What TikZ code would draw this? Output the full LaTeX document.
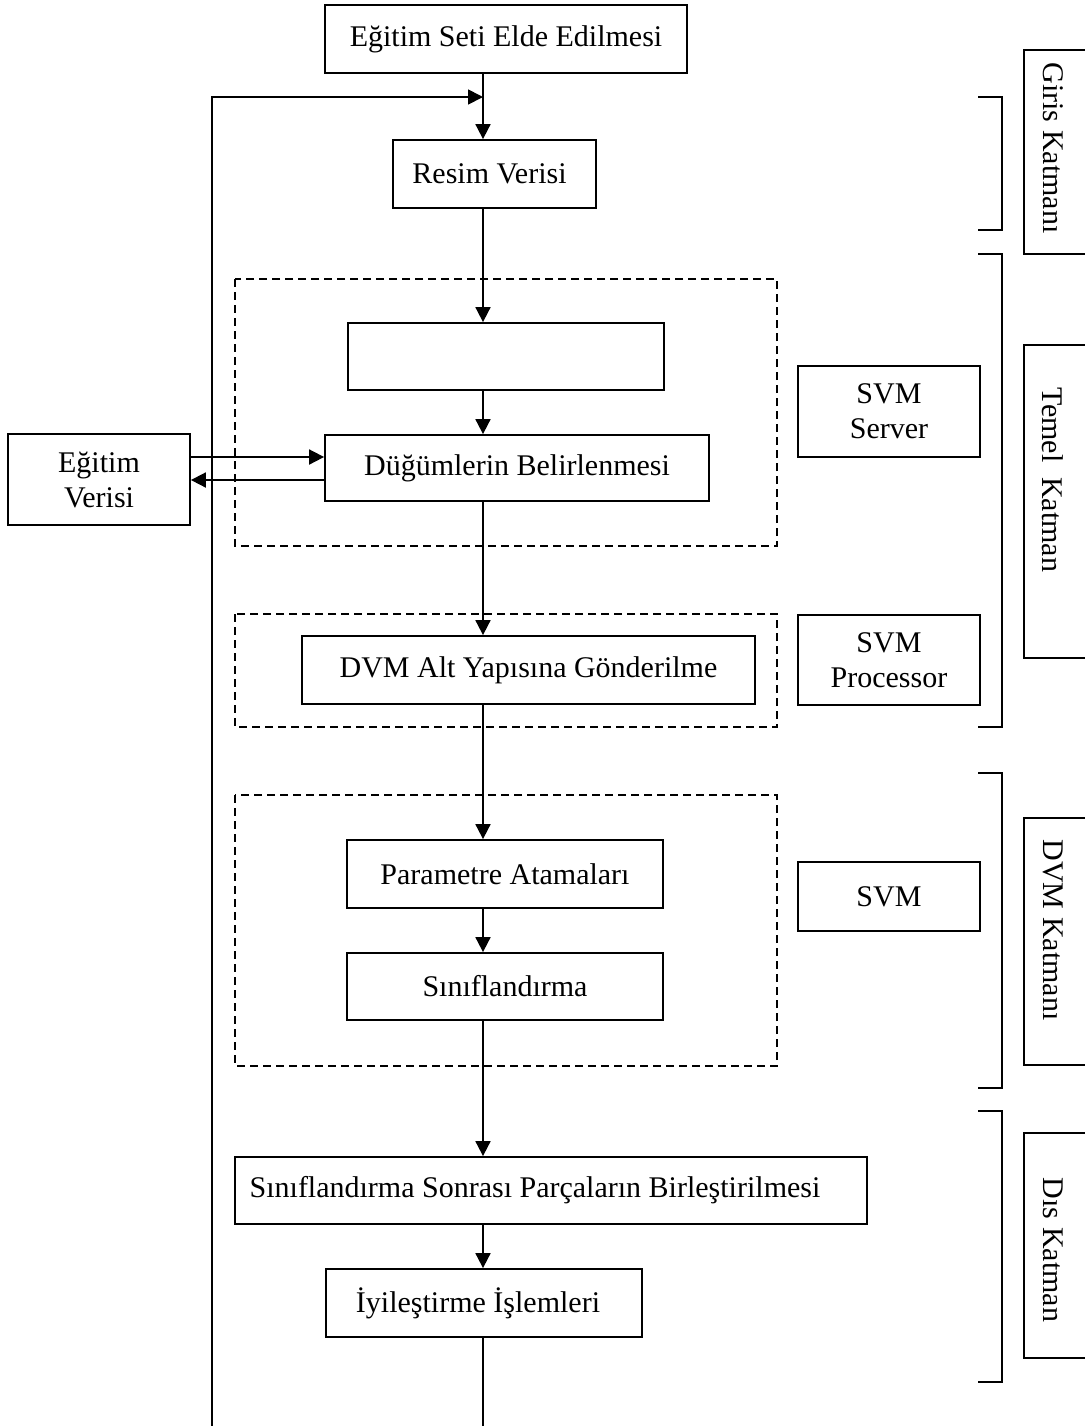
\documentclass[tikz,border=0pt]{standalone}
\usepackage{fontspec}
\setmainfont{Liberation Serif}
\usetikzlibrary{arrows.meta}
\begin{document}
\begin{tikzpicture}[x=0.5pt,y=-0.5pt,
  every node/.style={font=\fontsize{15}{17.5}\selectfont},
  box/.style={draw,line width=0.9pt,inner sep=0pt,align=center},
  arr/.style={line width=0.9pt,-{Triangle[length=7.5pt,width=7.5pt]}},
  ln/.style={line width=0.9pt},
  grp/.style={line width=0.7pt,dash pattern=on 4pt off 2.5pt},
  vlab/.style={rotate=-90,inner sep=0pt}]
\useasboundingbox (0,0) rectangle (1085,1426);
% process boxes
\node[box,minimum width=181pt,minimum height=34pt] (top) at (506,39) {Eğitim Seti Elde Edilmesi};
\node[box,minimum width=101.5pt,minimum height=34pt] (resim) at (494.5,174) {\hspace*{-5pt}Resim Verisi};
\node[box,minimum width=158pt,minimum height=33.5pt] (empty) at (506,356.5) {};
\node[box,minimum width=192pt,minimum height=33pt] (dug) at (517,468) {Düğümlerin Belirlenmesi};
\node[box,minimum width=91pt,minimum height=45.5pt] (egv) at (99,479.5) {Eğitim\\Verisi};
\node[box,minimum width=91pt,minimum height=45.5pt] (server) at (889,411.5) {SVM\\Server};
\node[box,minimum width=226.5pt,minimum height=34pt] (dvm) at (528.5,670) {DVM Alt Yapısına Gönderilme};
\node[box,minimum width=91pt,minimum height=45pt] (proc) at (889,660) {SVM\\Processor};
\node[box,minimum width=158pt,minimum height=34pt] (param) at (505,874) {Parametre Atamaları};
\node[box,minimum width=158pt,minimum height=33.5pt] (sinif) at (505,986.5) {Sınıflandırma};
\node[box,minimum width=91pt,minimum height=34.5pt] (svm) at (889,896.5) {SVM};
\node[box,minimum width=316pt,minimum height=33.5pt] (sonra) at (551,1190.5) {\hspace*{-16pt}Sınıflandırma Sonrası Parçaların Birleştirilmesi};
\node[box,minimum width=158pt,minimum height=34pt] (iyil) at (484,1303) {\hspace*{-6pt}İyileştirme İşlemleri};
% helper coordinates
\coordinate (mx) at (483,0);
\coordinate (ya) at (0,457);
\coordinate (yb) at (0,480);
\coordinate (fbstart) at (212,1426);
\coordinate (fbend) at (483,97);
\coordinate (bot) at (483,1426);
% main flow
\draw[arr] (top.south -| mx) -- (resim.north -| mx);
\draw[arr] (fbstart) |- (fbend);
\draw[arr] (resim.south -| mx) -- (empty.north -| mx);
\draw[arr] (empty.south -| mx) -- (dug.north -| mx);
\draw[arr] (egv.east |- ya) -- (dug.west |- ya);
\draw[arr] (dug.west |- yb) -- (egv.east |- yb);
\draw[arr] (dug.south -| mx) -- (dvm.north -| mx);
\draw[arr] (dvm.south -| mx) -- (param.north -| mx);
\draw[arr] (param.south -| mx) -- (sinif.north -| mx);
\draw[arr] (sinif.south -| mx) -- (sonra.north -| mx);
\draw[arr] (sonra.south -| mx) -- (iyil.north -| mx);
\draw[ln] (iyil.south -| mx) -- (bot);
% dashed groups
\draw[grp] (235,279) rectangle (777,546);
\draw[grp] (235,614) rectangle (777,727);
\draw[grp] (235,795) rectangle (777,1066);
% brackets
\draw[ln] (978,97) -- (1002,97) -- (1002,230) -- (978,230);
\draw[ln] (978,254) -- (1002,254) -- (1002,727) -- (978,727);
\draw[ln] (978,773) -- (1002,773) -- (1002,1088) -- (978,1088);
\draw[ln] (978,1111) -- (1002,1111) -- (1002,1382) -- (978,1382);
% layer label boxes
\draw[ln] (1095,50) -- (1024,50) -- (1024,254) -- (1095,254);
\draw[ln] (1095,345) -- (1024,345) -- (1024,658) -- (1095,658);
\draw[ln] (1095,818) -- (1024,818) -- (1024,1065) -- (1095,1065);
\draw[ln] (1095,1133) -- (1024,1133) -- (1024,1358) -- (1095,1358);
\node[vlab] (lgiris) at (1053,148) {Giris Katmanı};
\node[vlab] (ltemel) at (1053,480) {Temel\ \ Katman};
\node[vlab] (ldvm) at (1053,930) {DVM Katmanı};
\node[vlab] (ldis) at (1053,1250) {Dıs Katman};
\end{tikzpicture}
\end{document}
